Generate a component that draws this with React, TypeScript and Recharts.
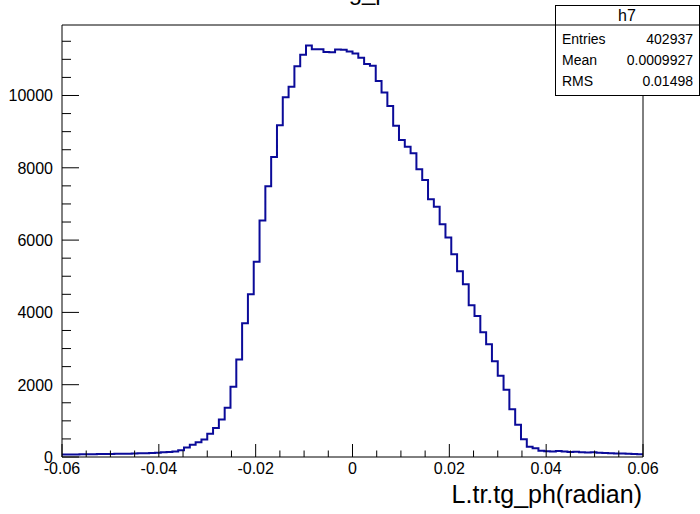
import React from 'react';
import { ComposedChart, Line, XAxis, YAxis } from 'recharts';

// histogram h7: 100 bins from -0.06 to 0.06
const binLow = -0.06;
const binHigh = 0.06;
const binWidth = 0.0012;
const counts = [
  70, 72, 68, 75, 78, 74, 82, 85, 80, 88,
  92, 90, 98, 105, 102, 112, 118, 128, 138, 150,
  185, 265, 338, 410, 485, 645, 800, 1035, 1360, 1940,
  2700, 3700, 4500, 5400, 6540, 7490, 8300, 9180, 9950, 10240,
  10810, 11130, 11380, 11280, 11280, 11200, 11195, 11270, 11265, 11215,
  11165, 11045, 10870, 10820, 10400, 10080, 9710, 9160, 8770, 8580,
  8400, 7960, 7660, 7130, 6920, 6440, 6070, 5610, 5140, 4780,
  4200, 3900, 3450, 3120, 2650, 2250, 1860, 1320, 890, 490,
  285, 240, 170, 160, 150, 165, 150, 140, 145, 130,
  125, 128, 118, 110, 105, 100, 95, 88, 82, 78,
];

const xMajorTicks = [-0.06, -0.04, -0.02, 0, 0.02, 0.04, 0.06];
const xMajorLabels = ['-0.06', '-0.04', '-0.02', '0', '0.02', '0.04', '0.06'];
const xMinorTicks = [
  -0.055, -0.05, -0.045, -0.035, -0.03, -0.025, -0.015, -0.01, -0.005,
  0.005, 0.01, 0.015, 0.025, 0.03, 0.035, 0.045, 0.05, 0.055,
];
const yMax = 11950;
const yMajorTicks = [0, 2000, 4000, 6000, 8000, 10000];
const yMajorLabels = ['0', '2000', '4000', '6000', '8000', '10000'];
const yMinorTicks = [
  500, 1000, 1500, 2500, 3000, 3500, 4500, 5000, 5500, 6500, 7000, 7500,
  8500, 9000, 9500, 10500, 11000, 11500,
];

const histName = 'h7';
const statsRows = [
  ['Entries', '402937'],
  ['Mean', '0.0009927'],
  ['RMS', '0.01498'],
];
const title = 'L.tr.tg_ph';
const xTitle = 'L.tr.tg_ph(radian)';

const font = '"Liberation Sans", Arial, Helvetica, sans-serif';
const lineColor = '#0b0b99';

const data = counts.map((c, i) => ({ x: binLow + i * binWidth, y: c }));
data.push({ x: binHigh, y: counts[counts.length - 1] });

const majorIndex = (list: number[], v: number) =>
  list.findIndex((t) => Math.abs(t - v) < 1e-9);

// ticks drawn inward like ROOT; props x/y sit on the axis line (tickSize/tickMargin = 0)
const XTick = (props: any) => {
  const { x, y, payload } = props;
  const idx = majorIndex(xMajorTicks, payload.value);
  const len = idx >= 0 ? 13 : 6.5;
  return (
    <g>
      <line x1={x} x2={x} y1={y} y2={y - len} stroke="#000" strokeWidth={1} />
      {idx >= 0 && (
        <text x={x} y={y + 17} textAnchor="middle" fontSize={16} fontFamily={font} fill="#000">
          {xMajorLabels[idx]}
        </text>
      )}
    </g>
  );
};

const YTick = (props: any) => {
  const { x, y, payload } = props;
  const idx = majorIndex(yMajorTicks, payload.value);
  const len = idx >= 0 ? 17 : 9;
  return (
    <g>
      <line x1={x} x2={x + len} y1={y} y2={y} stroke="#000" strokeWidth={1} />
      {idx >= 0 && (
        <text x={x - 9} y={y + 6} textAnchor="end" fontSize={16} fontFamily={font} fill="#000">
          {yMajorLabels[idx]}
        </text>
      )}
    </g>
  );
};

export default function App() {
  const xTicks = [...xMajorTicks, ...xMinorTicks].sort((a, b) => a - b);
  const yTicks = [...yMajorTicks, ...yMinorTicks].sort((a, b) => a - b);
  return (
    <div style={{ position: 'absolute', left: 0, top: 0, width: 700, height: 514, background: '#fff', fontFamily: font }}>
      <ComposedChart width={700} height={514} data={data} margin={{ top: 24, right: 56, bottom: 0, left: 0 }}>
        <XAxis
          dataKey="x"
          type="number"
          domain={[binLow, binHigh]}
          ticks={xTicks}
          interval={0}
          height={57}
          tickSize={0}
          tickMargin={0}
          tickLine={false}
          tick={<XTick />}
          axisLine={{ stroke: '#000', strokeWidth: 1 }}
        />
        <XAxis xAxisId="top" orientation="top" type="number" domain={[binLow, binHigh]} height={1} tick={false} tickLine={false} axisLine={{ stroke: '#000', strokeWidth: 1 }} />
        <YAxis
          type="number"
          domain={[0, yMax]}
          ticks={yTicks}
          interval={0}
          width={62}
          tickSize={0}
          tickMargin={0}
          tickLine={false}
          tick={<YTick />}
          axisLine={{ stroke: '#000', strokeWidth: 1 }}
        />
        <YAxis yAxisId="right" orientation="right" type="number" domain={[0, yMax]} width={1} tick={false} tickLine={false} axisLine={{ stroke: '#000', strokeWidth: 1 }} />
        <Line type="stepAfter" dataKey="y" stroke={lineColor} strokeWidth={2} dot={false} isAnimationActive={false} />
      </ComposedChart>
      <svg width={700} height={514} style={{ position: 'absolute', left: 0, top: 0, pointerEvents: 'none' }}>
        <text x={352} y={0} textAnchor="middle" fontSize={24} fontFamily={font} fill="#000">{title}</text>
        <text x={642} y={503} textAnchor="end" fontSize={25} fontFamily={font} fill="#000">{xTitle}</text>
        <rect x={555.5} y={5.5} width={144} height={90} fill="#fff" stroke="#000" strokeWidth={1} />
        <line x1={555.5} x2={699.5} y1={25} y2={25} stroke="#000" strokeWidth={1} />
        <text x={627} y={21} textAnchor="middle" fontSize={16} fontFamily={font} fill="#000">{histName}</text>
        {statsRows.map((r, i) => (
          <g key={r[0]}>
            <text x={562} y={44 + i * 21} fontSize={14} fontFamily={font} fill="#000">{r[0]}</text>
            <text x={693} y={44 + i * 21} textAnchor="end" fontSize={14} fontFamily={font} fill="#000">{r[1]}</text>
          </g>
        ))}
      </svg>
    </div>
  );
}
